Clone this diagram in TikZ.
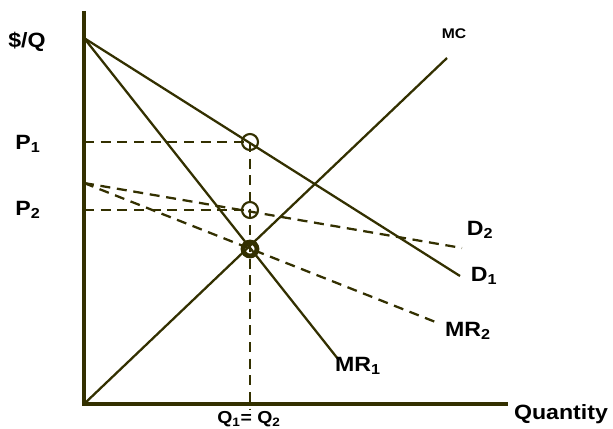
\documentclass[tikz,border=0pt]{standalone}
\usepackage{fontspec}
\setmainfont{Liberation Sans}[FakeStretch=1.12]
\usepackage{tikz}
\usetikzlibrary{calc}
\definecolor{olivedark}{RGB}{51,48,0}
\tikzset{
  axisline/.style={line width=3.2pt, color=olivedark},
  curve/.style={line width=1.7pt, color=olivedark},
  dashcurve/.style={line width=1.7pt, color=olivedark, dash pattern=on 7.5pt off 5pt},
  ring/.style={line width=1.6pt, color=olivedark},
  boldring/.style={line width=3.6pt, color=olivedark},
  lbl/.style={font=\fontsize{15.5}{18}\selectfont\bfseries, text=black, inner sep=0pt},
  smalllbl/.style={font=\fontsize{10.5}{12}\selectfont\bfseries, text=black, inner sep=0pt}
}

\begin{document}
\begin{tikzpicture}[x=0.75pt, y=-0.75pt]
  \useasboundingbox (0,0) rectangle (613,428);
  % Points (pixel grid)
  \coordinate (O) at (84,404);
  \coordinate (ytop) at (84,11);
  \coordinate (xend) at (508,404);
  \coordinate (A) at (84,38);
  \coordinate (B) at (84,183);
  \coordinate (E1) at (250,142);
  \coordinate (E2) at (250,210);
  \coordinate (E0) at (250,249);
  \coordinate (p1) at (84,142);
  \coordinate (p2) at (84,210);
  \coordinate (qb) at (250,410);
  \coordinate (d1end) at (460,276);
  \coordinate (mr1end) at (338,359);
  \coordinate (d2end) at (462,248);
  \coordinate (mr2end) at (438,323);
  \coordinate (mcend) at (447,58);
  % Price and quantity guides
  \draw[dashcurve] (p1) -- (E1);
  \draw[dashcurve] (p2) -- (E2);
  \draw[dashcurve] (E1) -- (qb);
  % Demand and MR, case 1
  \draw[curve] (A) -- (d1end);
  \draw[curve] (A) -- (mr1end);
  % Demand and MR, case 2
  \draw[dashcurve] (B) -- (d2end);
  \draw[dashcurve] (B) -- (mr2end);
  % Marginal cost
  \draw[curve] (O) -- (mcend);
  % Axes
  \draw[axisline, line join=miter] (ytop) -- (O) -- (xend);
  % Markers
  \draw[ring] (E1) circle (8);
  \draw[ring] (E2) circle (8);
  \draw[boldring] (E0) circle (7);
  % Labels
  \node[lbl] (lq) at (27,42) {\$/Q};
  \node[lbl] (lp1) at (28,144) {P\textsubscript{1}};
  \node[lbl] (lp2) at (28,210) {P\textsubscript{2}};
  \node[smalllbl] (lmc) at (454,34) {MC};
  \node[lbl] (ld2) at (480,230) {D\textsubscript{2}};
  \node[lbl] (ld1) at (484,276) {D\textsubscript{1}};
  \node[lbl] (lmr2) at (468,331) {MR\textsubscript{2}};
  \node[lbl] (lmr1) at (358,366) {MR\textsubscript{1}};
  \node[lbl, font=\fontsize{13}{15}\selectfont\bfseries] (lq12) at (249,419) {Q\textsubscript{1}= Q\textsubscript{2}};
  \node[lbl] (lqty) at (561,414) {Quantity};
\end{tikzpicture}
\end{document}
